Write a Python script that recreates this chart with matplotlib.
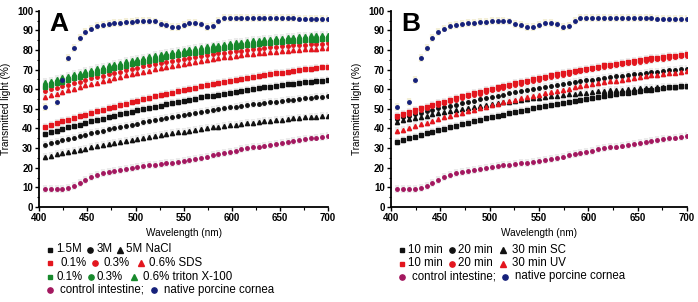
import numpy as np
import matplotlib
matplotlib.use("Agg")
import matplotlib.pyplot as plt
from matplotlib.lines import Line2D
from matplotlib.ticker import MultipleLocator

plt.rcParams["font.family"] = ["Liberation Sans", "DejaVu Sans"]

# wavelength grid of the measurement (nm)
wavelength = np.arange(406, 701, 6)

cornea = [51.0, np.nan, 53.3, 64.5, 75.8, 81.0, 86.3, 89.0, 90.9, 92.1,
          92.8, 93.3, 93.6, 93.9, 94.2, 94.4, 94.6, 94.7, 94.7, 94.5,
          93.3, 92.5, 91.8, 91.7, 92.8, 93.6, 93.7, 93.0, 91.6, 92.3,
          94.8, 96.2, 96.3, 96.3, 96.3, 96.3, 96.3, 96.3, 96.3, 96.2,
          96.2, 96.2, 96.1, 96.1, 96.0, 96.0, 95.9, 95.9, 95.8, 95.8]
intestine = [9.3, 9.2, 9.0, 9.2, 9.7, 10.9, 12.2, 13.9, 15.3, 16.3,
             17.2, 17.9, 18.4, 18.9, 19.4, 19.9, 20.4, 20.9, 21.2, 21.6,
             21.9, 22.3, 22.6, 23.0, 23.4, 23.8, 24.5, 25.0, 25.7, 26.4,
             27.0, 27.7, 28.2, 28.7, 29.4, 29.9, 30.4, 30.8, 31.3, 31.8,
             32.3, 32.8, 33.3, 33.7, 34.2, 34.5, 34.9, 35.4, 35.7, 36.2]

# panel A
nacl_15 = [37.2, 38.0, 38.9, 39.7, 40.5, 41.3, 42.0, 42.8, 43.6, 44.3,
           45.0, 45.8, 46.5, 47.2, 47.9, 48.5, 49.2, 49.9, 50.5, 51.1,
           51.7, 52.4, 52.9, 53.5, 54.1, 54.7, 55.2, 55.8, 56.3, 56.8,
           57.3, 57.8, 58.3, 58.7, 59.2, 59.6, 60.1, 60.5, 60.9, 61.3,
           61.7, 62.1, 62.5, 62.8, 63.2, 63.5, 63.8, 64.1, 64.4, 64.7]
nacl_3 = [31.8, 32.5, 33.3, 34.0, 34.7, 35.4, 36.1, 36.8, 37.5, 38.2,
          38.8, 39.5, 40.1, 40.7, 41.3, 41.9, 42.5, 43.1, 43.7, 44.3,
          44.8, 45.4, 45.9, 46.4, 46.9, 47.4, 47.9, 48.4, 48.9, 49.3,
          49.8, 50.2, 50.7, 51.1, 51.5, 51.9, 52.3, 52.7, 53.0, 53.4,
          53.7, 54.1, 54.4, 54.7, 55.0, 55.3, 55.6, 55.9, 56.1, 56.4]
nacl_5 = [25.5, 26.1, 26.8, 27.4, 28.0, 28.6, 29.2, 29.8, 30.4, 30.9,
          31.5, 32.0, 32.6, 33.1, 33.6, 34.2, 34.7, 35.2, 35.7, 36.1,
          36.6, 37.1, 37.5, 38.0, 38.4, 38.8, 39.3, 39.7, 40.1, 40.5,
          40.9, 41.2, 41.6, 42.0, 42.3, 42.6, 43.0, 43.3, 43.6, 43.9,
          44.2, 44.5, 44.8, 45.1, 45.3, 45.6, 45.8, 46.1, 46.3, 46.5]
sds_01 = [40.8, 41.7, 42.6, 43.6, 44.4, 45.3, 46.2, 47.0, 47.9, 48.7,
          49.5, 50.3, 51.1, 51.9, 52.7, 53.4, 54.2, 54.9, 55.6, 56.3,
          57.0, 57.7, 58.3, 59.0, 59.6, 60.2, 60.8, 61.4, 62.0, 62.6,
          63.2, 63.7, 64.3, 64.8, 65.3, 65.8, 66.3, 66.7, 67.2, 67.6,
          68.1, 68.5, 68.9, 69.3, 69.7, 70.1, 70.4, 70.8, 71.1, 71.4]
sds_03 = [59.0, 59.9, 60.7, 61.5, 62.4, 63.2, 63.9, 64.7, 65.5, 66.2,
          66.9, 67.6, 68.3, 69.0, 69.7, 70.3, 70.9, 71.6, 72.2, 72.8,
          73.3, 73.9, 74.4, 74.9, 75.5, 76.0, 76.4, 76.9, 77.3, 77.8,
          78.2, 78.6, 79.0, 79.4, 79.7, 80.1, 80.4, 80.7, 81.0, 81.3,
          81.6, 81.8, 82.1, 82.3, 82.5, 82.7, 82.9, 83.0, 83.2, 83.3]
sds_06 = [56.0, 56.9, 57.8, 58.6, 59.4, 60.3, 61.1, 61.9, 62.6, 63.4,
          64.1, 64.9, 65.6, 66.3, 67.0, 67.6, 68.3, 68.9, 69.5, 70.1,
          70.7, 71.3, 71.9, 72.4, 72.9, 73.4, 73.9, 74.4, 74.9, 75.3,
          75.8, 76.2, 76.6, 77.0, 77.3, 77.7, 78.0, 78.3, 78.7, 78.9,
          79.2, 79.5, 79.7, 80.0, 80.2, 80.4, 80.5, 80.7, 80.9, 81.0]
triton_01 = [61.3, 62.2, 63.0, 63.8, 64.7, 65.5, 66.2, 67.0, 67.8, 68.5,
             69.2, 69.9, 70.6, 71.3, 72.0, 72.6, 73.2, 73.9, 74.5, 75.1,
             75.6, 76.2, 76.7, 77.2, 77.8, 78.3, 78.7, 79.2, 79.6, 80.1,
             80.5, 80.9, 81.3, 81.7, 82.0, 82.4, 82.7, 83.0, 83.3, 83.6,
             83.9, 84.1, 84.4, 84.6, 84.8, 85.0, 85.2, 85.3, 85.5, 85.6]
triton_03 = [62.3, 63.2, 64.0, 64.8, 65.7, 66.5, 67.2, 68.0, 68.8, 69.5,
             70.2, 70.9, 71.6, 72.3, 73.0, 73.6, 74.2, 74.9, 75.5, 76.1,
             76.6, 77.2, 77.7, 78.2, 78.8, 79.3, 79.7, 80.2, 80.6, 81.1,
             81.5, 81.9, 82.3, 82.7, 83.0, 83.4, 83.7, 84.0, 84.3, 84.6,
             84.9, 85.1, 85.4, 85.6, 85.8, 86.0, 86.2, 86.3, 86.5, 86.6]
triton_06 = [63.5, 64.4, 65.2, 66.0, 66.9, 67.7, 68.4, 69.2, 70.0, 70.7,
             71.4, 72.1, 72.8, 73.5, 74.2, 74.8, 75.4, 76.1, 76.7, 77.3,
             77.8, 78.4, 78.9, 79.4, 80.0, 80.5, 80.9, 81.4, 81.8, 82.3,
             82.7, 83.1, 83.5, 83.9, 84.2, 84.6, 84.9, 85.2, 85.5, 85.8,
             86.1, 86.3, 86.6, 86.8, 87.0, 87.2, 87.4, 87.5, 87.7, 87.8]

# panel B
sc_10 = [33.3, 34.2, 35.0, 35.9, 36.7, 37.5, 38.3, 39.1, 39.9, 40.7,
         41.4, 42.2, 42.9, 43.6, 44.4, 45.1, 45.7, 46.4, 47.1, 47.7,
         48.4, 49.0, 49.6, 50.2, 50.8, 51.4, 52.0, 52.5, 53.1, 53.6,
         54.1, 54.6, 55.1, 55.6, 56.1, 56.6, 57.0, 57.5, 57.9, 58.3,
         58.7, 59.1, 59.5, 59.8, 60.2, 60.5, 60.9, 61.2, 61.5, 61.8]
sc_20 = [45.0, 45.8, 46.5, 47.3, 48.0, 48.8, 49.5, 50.2, 50.9, 51.6,
         52.2, 52.9, 53.6, 54.2, 54.9, 55.5, 56.1, 56.7, 57.3, 57.9,
         58.4, 59.0, 59.5, 60.1, 60.6, 61.1, 61.6, 62.1, 62.6, 63.1,
         63.6, 64.0, 64.5, 64.9, 65.3, 65.7, 66.1, 66.5, 66.9, 67.3,
         67.6, 68.0, 68.3, 68.7, 69.0, 69.3, 69.6, 69.9, 70.1, 70.4]
sc_30 = [43.5, 44.1, 44.8, 45.4, 46.0, 46.6, 47.2, 47.7, 48.3, 48.8,
         49.4, 49.9, 50.4, 50.9, 51.4, 51.9, 52.3, 52.8, 53.3, 53.7,
         54.1, 54.5, 54.9, 55.3, 55.7, 56.1, 56.4, 56.8, 57.1, 57.4,
         57.7, 58.0, 58.3, 58.6, 58.9, 59.1, 59.4, 59.6, 59.8, 60.0,
         60.2, 60.4, 60.6, 60.7, 60.9, 61.0, 61.2, 61.3, 61.4, 61.5]
uv_10 = [46.5, 47.5, 48.4, 49.3, 50.2, 51.1, 52.0, 52.9, 53.7, 54.6,
         55.4, 56.3, 57.1, 57.9, 58.6, 59.4, 60.2, 60.9, 61.6, 62.4,
         63.1, 63.7, 64.4, 65.1, 65.7, 66.4, 67.0, 67.6, 68.2, 68.8,
         69.4, 69.9, 70.5, 71.0, 71.5, 72.1, 72.5, 73.0, 73.5, 74.0,
         74.4, 74.8, 75.2, 75.7, 76.0, 76.4, 76.8, 77.1, 77.5, 77.8]
uv_20 = [45.7, 46.7, 47.6, 48.5, 49.4, 50.3, 51.2, 52.1, 52.9, 53.8,
         54.6, 55.5, 56.3, 57.1, 57.8, 58.6, 59.4, 60.1, 60.8, 61.6,
         62.3, 62.9, 63.6, 64.3, 64.9, 65.6, 66.2, 66.8, 67.4, 68.0,
         68.6, 69.1, 69.7, 70.2, 70.7, 71.3, 71.7, 72.2, 72.7, 73.2,
         73.6, 74.0, 74.4, 74.9, 75.2, 75.6, 76.0, 76.3, 76.7, 77.0]
uv_30 = [38.5, 39.4, 40.3, 41.3, 42.1, 43.0, 43.9, 44.7, 45.6, 46.4,
         47.2, 48.0, 48.8, 49.6, 50.4, 51.1, 51.9, 52.6, 53.3, 54.0,
         54.7, 55.4, 56.0, 56.7, 57.3, 57.9, 58.5, 59.1, 59.7, 60.3,
         60.9, 61.4, 62.0, 62.5, 63.0, 63.5, 64.0, 64.4, 64.9, 65.3,
         65.8, 66.2, 66.6, 67.0, 67.4, 67.8, 68.1, 68.5, 68.8, 69.1]

halo_err = 2.0

BLACK = "#111111"
RED = "#e3161e"
GREEN = "#17892c"
PURPLE = "#a3175f"
NAVY = "#15207a"
SIZES = {"s": 2.2, "o": 2.5, "^": 3.0}

W, H = 698, 302


def fx(px):
    return px / W


def fy(py):
    return 1 - py / H


def draw_series(ax, y, marker, color, halo="#ebebeb"):
    ax.errorbar(wavelength, y, yerr=halo_err, fmt="none", ecolor=halo,
                elinewidth=3.0, zorder=1)
    ax.plot(wavelength, y, linestyle="none", marker=marker, color=color,
            mec=color, ms=SIZES[marker], zorder=3)


def setup_axes(ax, letter):
    ax.set_xlim(400, 700)
    ax.set_ylim(0, 100)
    ax.spines[["top", "right"]].set_visible(False)
    ax.spines[["left", "bottom"]].set_linewidth(1.3)
    ax.xaxis.set_major_locator(MultipleLocator(50))
    ax.xaxis.set_minor_locator(MultipleLocator(25))
    ax.yaxis.set_major_locator(MultipleLocator(10))
    ax.yaxis.set_minor_locator(MultipleLocator(5))
    ax.tick_params(which="major", direction="out", length=3, width=1,
                   labelsize=7, pad=1.5)
    ax.tick_params(which="minor", direction="out", length=1.8, width=0.8)
    for lab in ax.get_xticklabels() + ax.get_yticklabels():
        lab.set_fontweight("bold")
    ax.set_xlabel("Wavelength (nm)", fontsize=7.2)
    ax.set_ylabel("Transmitted light (%)", fontsize=7.2)
    ax.xaxis.set_label_coords(0.5, -0.105)
    ax.yaxis.set_label_coords(-0.098, 0.5)
    ax.text(0.035, 0.995, letter, transform=ax.transAxes, fontsize=19,
            fontweight="bold", va="top")


def legend_row(fig, y, items):
    for x, kind, value in items:
        if kind == "t":
            fig.text(fx(x), fy(y), value, fontsize=8.3, va="center", ha="left")
        else:
            fig.add_artist(Line2D([fx(x)], [fy(y)], marker=kind, color=value,
                                  ms=SIZES[kind] + 1.3, linestyle="none",
                                  transform=fig.transFigure))


fig = plt.figure(figsize=(W / 100, H / 100), dpi=100)
ax_a = fig.add_axes([fx(39.3), fy(207), fx(328 - 39.3), (207 - 10.7) / H])
ax_b = fig.add_axes([fx(391), fy(207), fx(687 - 391), (207 - 10.7) / H])

for y, m, c in [(nacl_15, "s", BLACK), (nacl_3, "o", BLACK), (nacl_5, "^", BLACK),
                (sds_01, "s", RED), (sds_03, "o", RED), (sds_06, "^", RED),
                (triton_01, "s", GREEN), (triton_03, "o", GREEN),
                (triton_06, "^", GREEN)]:
    draw_series(ax_a, y, m, c)

for y, m, c in [(sc_10, "s", BLACK), (sc_20, "o", BLACK), (sc_30, "^", BLACK),
                (uv_10, "s", RED), (uv_20, "o", RED), (uv_30, "^", RED)]:
    draw_series(ax_b, y, m, c)

for ax in (ax_a, ax_b):
    draw_series(ax, intestine, "o", PURPLE)
    draw_series(ax, cornea, "o", NAVY, halo="#f3efd8")

setup_axes(ax_a, "A")
setup_axes(ax_b, "B")

legend_row(fig, 249.5, [(50, "s", BLACK), (56.5, "t", "1.5M"), (90, "o", BLACK),
                        (96.5, "t", "3M"), (119.5, "^", BLACK), (126.5, "t", "5M NaCl")])
legend_row(fig, 263, [(50.5, "s", RED), (60.5, "t", "0.1%"), (94.5, "o", RED),
                      (104, "t", "0.3%"), (141, "^", RED), (149, "t", "0.6% SDS")])
legend_row(fig, 276.5, [(50, "s", GREEN), (56, "t", "0.1%"), (90.5, "o", GREEN),
                        (96.5, "t", "0.3%"), (134, "^", GREEN),
                        (143, "t", "0.6% triton X-100")])
legend_row(fig, 289.5, [(50, "o", PURPLE), (60, "t", "control intestine;"),
                        (154, "o", NAVY), (164, "t", "native porcine cornea")])

legend_row(fig, 250, [(401.5, "s", BLACK), (408, "t", "10 min"), (451.5, "o", BLACK),
                      (457.5, "t", "20 min"), (503, "^", BLACK), (511.5, "t", "30 min SC")])
legend_row(fig, 263.5, [(401.5, "s", RED), (408, "t", "10 min"), (451.5, "o", RED),
                        (457.5, "t", "20 min"), (503.5, "^", RED), (511.5, "t", "30 min UV")])
legend_row(fig, 276.5, [(401.5, "o", PURPLE), (412, "t", "control intestine;"),
                        (505, "o", NAVY), (515, "t", "native porcine cornea")])

fig.savefig("out.png", dpi=100)
